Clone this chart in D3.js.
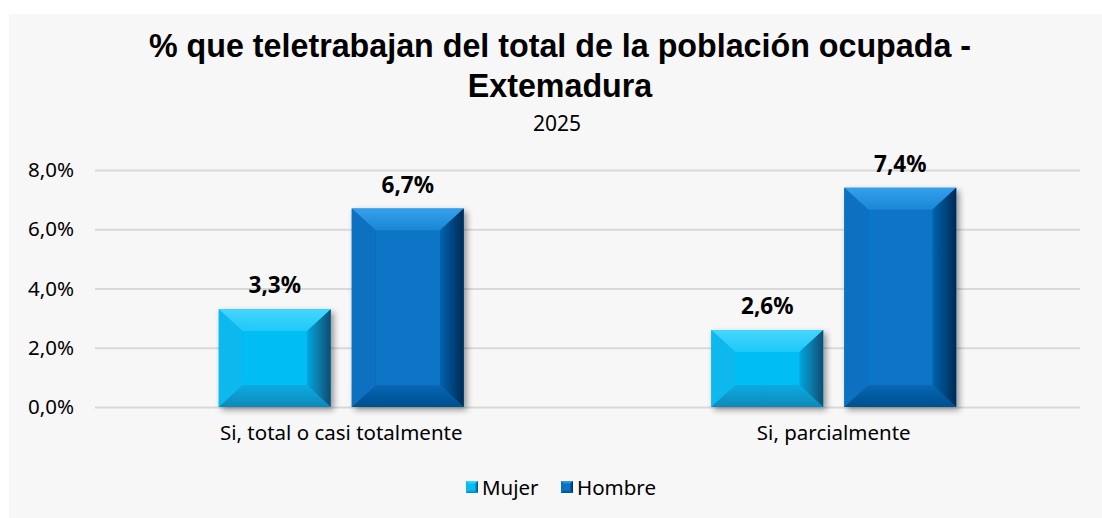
<!DOCTYPE html>
<html>
<head>
<meta charset="utf-8">
<script src="https://cdn.jsdelivr.net/npm/d3@7"></script>
<style>
  html, body { margin: 0; padding: 0; background: #ffffff; }
  svg { display: block; }
</style>
</head>
<body>
<svg id="chart" width="1102" height="518"></svg>
<script>
// Teleworking share of employed population, Extremadura 2025
const categories = ["Si, total o casi totalmente", "Si, parcialmente"];
const seriesNames = ["Mujer", "Hombre"];
const mujerValues = [0.033, 0.026];
const hombreValues = [0.067, 0.074];
const yTicks = [0, 0.02, 0.04, 0.06, 0.08];
const titleLines = ["% que teletrabajan del total de la población ocupada -", "Extemadura"];
const subtitle = "2025";

const W = 1102, H = 518;
const margin = { left: 95, right: 22 };
const svg = d3.select("#chart");

const esLocale = d3.formatLocale({ decimal: ",", thousands: ".", grouping: [3], currency: ["", " €"] });
const pct1 = esLocale.format(".1%");

// Palette per series: face, top bevel, left bevel, right bevel (inner/outer), bottom bevel (inner/outer)
const palette = {
  Mujer:  { face: "#02bef3", top: "#45d6ff", left: "#0bb8ee", rightIn: "#05a8df", rightOut: "#0a4c72", botIn: "#07abe0", botOut: "#0a88ba" },
  Hombre: { face: "#0874c6", top: "#35a0ec", left: "#096fc0", rightIn: "#0664ae", rightOut: "#022a55", botIn: "#0767b5", botOut: "#04508c" }
};

// Background panel
svg.append("rect").attr("x", 9).attr("y", 14).attr("width", W - 9).attr("height", H - 14).attr("fill", "#f7f7f7");

const defs = svg.append("defs");
const shadow = defs.append("filter").attr("id", "barShadow")
  .attr("x", "-20%").attr("y", "-20%").attr("width", "150%").attr("height", "150%");
shadow.append("feGaussianBlur").attr("in", "SourceAlpha").attr("stdDeviation", 3);
shadow.append("feOffset").attr("dx", 3).attr("dy", 3).attr("result", "off");
shadow.append("feComponentTransfer").append("feFuncA").attr("type", "linear").attr("slope", 0.4);
const mrg = shadow.append("feMerge");
mrg.append("feMergeNode");
mrg.append("feMergeNode").attr("in", "SourceGraphic");

seriesNames.forEach(s => {
  const p = palette[s];
  const gr = defs.append("linearGradient").attr("id", "right-" + s).attr("x1", 0).attr("x2", 1).attr("y1", 0).attr("y2", 0);
  gr.append("stop").attr("offset", 0).attr("stop-color", p.rightIn);
  gr.append("stop").attr("offset", 1).attr("stop-color", p.rightOut);
  const gb = defs.append("linearGradient").attr("id", "bottom-" + s).attr("x1", 0).attr("x2", 0).attr("y1", 0).attr("y2", 1);
  gb.append("stop").attr("offset", 0).attr("stop-color", p.botIn);
  gb.append("stop").attr("offset", 1).attr("stop-color", p.botOut);
  const gt = defs.append("linearGradient").attr("id", "top-" + s).attr("x1", 0).attr("x2", 0).attr("y1", 0).attr("y2", 1);
  gt.append("stop").attr("offset", 0).attr("stop-color", p.top);
  gt.append("stop").attr("offset", 1).attr("stop-color", d3.interpolateRgb(p.top, p.face)(0.6));
});

// Titles: a condensed bold look, both lines squeezed by the same ratio
const titleFont = "'Liberation Sans', Arial, sans-serif";
const titleX = 560;
const t1 = svg.append("text").attr("x", titleX).attr("y", 57).attr("text-anchor", "middle")
  .attr("font-family", titleFont).attr("font-weight", "bold").attr("font-size", 33).attr("fill", "#000")
  .text(titleLines[0]);
const t2 = svg.append("text").attr("x", titleX).attr("y", 97).attr("text-anchor", "middle")
  .attr("font-family", titleFont).attr("font-weight", "bold").attr("font-size", 33).attr("fill", "#000")
  .text(titleLines[1]);
const line1Width = 822;
const squeeze = line1Width / t1.node().getComputedTextLength();
t1.attr("textLength", line1Width).attr("lengthAdjust", "spacingAndGlyphs");
t2.attr("textLength", t2.node().getComputedTextLength() * squeeze).attr("lengthAdjust", "spacingAndGlyphs");
svg.append("text").attr("x", titleX - 3).attr("y", 131).attr("text-anchor", "middle")
  .attr("font-family", "'Noto Sans', sans-serif").attr("font-size", 21).attr("fill", "#000")
  .text(subtitle);

// Scales
const y = d3.scaleLinear().domain([0, 0.08]).range([407, 170]);
const x0 = d3.scaleBand().domain(categories).range([margin.left, W - margin.right]).paddingInner(0).paddingOuter(0);
const groupW = x0.bandwidth() * 0.4975;
const x1 = d3.scaleBand().domain(seriesNames).range([0, groupW]).paddingInner(0.158).paddingOuter(0);

const labelFont = "'Noto Sans', 'Open Sans', sans-serif";

// Gridlines and value axis
const yAxis = d3.axisLeft(y).tickValues(yTicks).tickFormat(pct1).tickSize(-(W - margin.right - margin.left)).tickPadding(21);
const gy = svg.append("g").attr("transform", `translate(${margin.left},0)`).call(yAxis);
gy.select(".domain").remove();
gy.selectAll(".tick line").attr("stroke", "#d9d9d9").attr("stroke-width", 2);
gy.selectAll(".tick text").attr("font-family", labelFont).attr("font-size", 20.5).attr("fill", "#000");

// Category axis
const xAxis = d3.axisBottom(x0).tickSize(0).tickPadding(18);
const gx = svg.append("g").attr("transform", `translate(0,${y(0)})`).call(xAxis);
gx.select(".domain").remove();
gx.selectAll(".tick text").attr("font-family", labelFont).attr("font-size", 20.5).attr("fill", "#000");

// Data rows
const rows = categories.map((c, i) => ({ category: c, values: [
  { series: "Mujer", value: mujerValues[i] },
  { series: "Hombre", value: hombreValues[i] }
]}));

function drawBevelBar(g, x, yTop, w, h, s, bevel) {
  const p = palette[s];
  const bx = Math.min(bevel, w / 2), by = Math.min(bevel * 0.92, h / 2);
  const x2 = x + w, y2 = yTop + h;
  const poly = pts => pts.map(q => q.join(",")).join(" ");
  const bar = g.append("g").attr("filter", bevel > 6 ? "url(#barShadow)" : null);
  bar.append("rect").attr("x", x).attr("y", yTop).attr("width", w).attr("height", h).attr("fill", p.face);
  bar.append("polygon").attr("points", poly([[x, yTop], [x2, yTop], [x2 - bx, yTop + by], [x + bx, yTop + by]])).attr("fill", `url(#top-${s})`);
  bar.append("polygon").attr("points", poly([[x, yTop], [x + bx, yTop + by], [x + bx, y2 - by], [x, y2]])).attr("fill", p.left);
  bar.append("polygon").attr("points", poly([[x, y2], [x + bx, y2 - by], [x2 - bx, y2 - by], [x2, y2]])).attr("fill", `url(#bottom-${s})`);
  bar.append("polygon").attr("points", poly([[x2, yTop], [x2, y2], [x2 - bx, y2 - by], [x2 - bx, yTop + by]])).attr("fill", `url(#right-${s})`);
  bar.append("rect").attr("x", x + bx).attr("y", yTop + by).attr("width", Math.max(0, w - 2 * bx)).attr("height", Math.max(0, h - 2 * by)).attr("fill", p.face);
}

const groups = svg.append("g").selectAll("g.cat").data(rows).join("g")
  .attr("class", "cat")
  .attr("transform", d => `translate(${x0(d.category) + (x0.bandwidth() - groupW) / 2},0)`);

groups.each(function(d) {
  const g = d3.select(this);
  d.values.forEach(v => {
    drawBevelBar(g, x1(v.series), y(v.value), x1.bandwidth(), y(0) - y(v.value), v.series, 24);
    g.append("text")
      .attr("x", x1(v.series) + x1.bandwidth() / 2)
      .attr("y", y(v.value) - 16)
      .attr("text-anchor", "middle")
      .attr("font-family", labelFont).attr("font-weight", "bold").attr("font-size", 22.5).attr("fill", "#000")
      .text(pct1(v.value));
  });
});

// Legend
const legend = svg.append("g").attr("transform", "translate(466,481)");
const legendX = [0, 95];
seriesNames.forEach((s, i) => {
  const lg = legend.append("g").attr("transform", `translate(${legendX[i]},0)`);
  drawBevelBar(lg, 0, 0, 12, 12, s, 3);
  lg.append("text").attr("x", 16).attr("y", 13.5).attr("font-family", labelFont).attr("font-size", 20.5).attr("fill", "#000").text(s);
});
</script>
</body>
</html>
